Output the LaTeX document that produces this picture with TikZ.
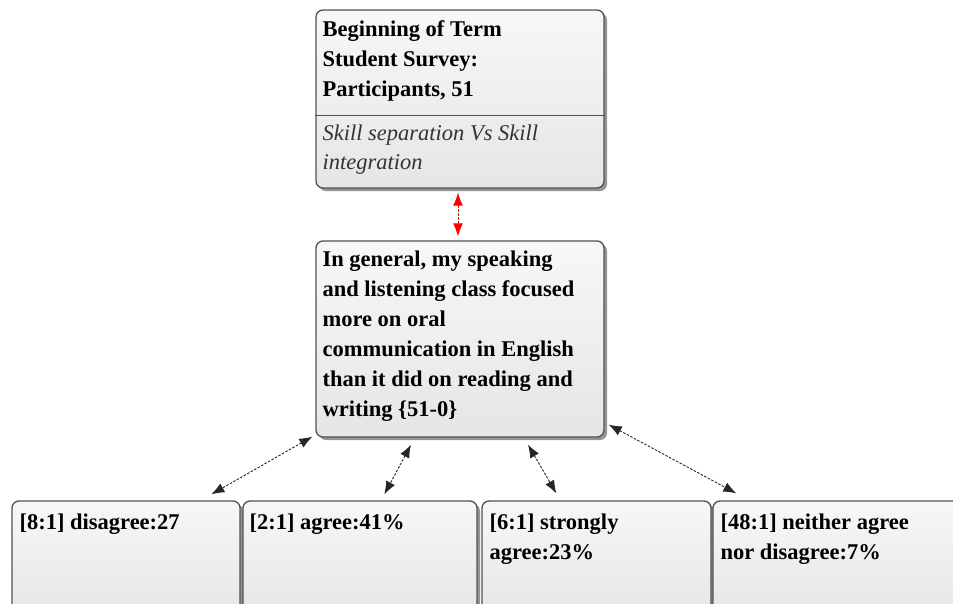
\documentclass[tikz,border=0pt]{standalone}
\usepackage{fontspec}
\setmainfont{Liberation Serif}
\usetikzlibrary{arrows.meta,shadows}

\begin{document}
\begin{tikzpicture}[x=1pt,y=-1pt,
  box/.style={draw=black!68, line width=1.3pt, rounded corners=7pt,
    top color=black!3, bottom color=black!10,
    drop shadow={shadow xshift=3pt, shadow yshift=-3pt, fill=black!70, opacity=0.6}},
  boldtxt/.style={anchor=north west, inner sep=0pt, align=left,
    font=\fontsize{22.5}{30}\selectfont\bfseries},
  itaTxt/.style={anchor=north west, inner sep=0pt, align=left, text=black!80,
    font=\fontsize{22.5}{29}\selectfont\itshape},
  link/.style={{Latex[length=13pt,width=10pt]}-{Latex[length=13pt,width=10pt]},
    line width=0.9pt, dash pattern=on 2.5pt off 1.5pt, black!85},
  redlink/.style={{Latex[length=13pt,width=10pt]}-{Latex[length=13pt,width=10pt]},
    line width=1pt, dash pattern=on 2.5pt off 1.5pt, red},
]
\useasboundingbox (0,0) rectangle (953,603);
\begin{scope}
\clip (0,0) rectangle (953,603);

% survey header box with its divider
\node[box, minimum width=288pt, minimum height=178pt] (top) at (460,99) {};
\draw[black!68, line width=1.3pt] ([yshift=-106pt]top.north west) -- ([yshift=-106pt]top.north east);
\node[boldtxt] (toptxt) at ([xshift=7pt,yshift=-6pt]top.north west)
  {\strut Beginning of Term\\Student Survey:\\Participants, 51};
\node[itaTxt] (topsub) at ([xshift=7pt,yshift=-111pt]top.north west)
  {\strut Skill separation Vs Skill\\integration};

% question box
\node[box, minimum width=288pt, minimum height=196pt] (mid) at (460,339) {};
\node[boldtxt] (midtxt) at ([xshift=7pt,yshift=-5pt]mid.north west)
  {\strut In general, my speaking\\and listening class focused\\more on oral\\communication in English\\than it did on reading and\\writing \{51-0\}};

% answer boxes
\node[box, minimum width=228pt, minimum height=119pt] (b1) at (126,560.5) {};
\node[box, minimum width=234pt, minimum height=119pt] (b2) at (360,560.5) {};
\node[box, minimum width=229pt, minimum height=119pt] (b3) at (596.5,560.5) {};
\node[box, minimum width=252pt, minimum height=119pt] (b4) at (839,560.5) {};

\node[boldtxt] (t1) at ([xshift=8pt,yshift=-8pt]b1.north west) {\strut [8:1] disagree:27};
\node[boldtxt] (t2) at ([xshift=7pt,yshift=-8pt]b2.north west) {\strut [2:1] agree:41\%};
\node[boldtxt] (t3) at ([xshift=8pt,yshift=-8pt]b3.north west) {\strut [6:1] strongly\\agree:23\%};
\node[boldtxt] (t4) at ([xshift=8pt,yshift=-8pt]b4.north west) {\strut [48:1] neither agree\\nor disagree:7\%};

% connectors
\draw[redlink] ([xshift=-2pt,yshift=-4pt]top.south) -- ([xshift=-2pt,yshift=4pt]mid.north);
\draw[link] ([xshift=-3pt,yshift=1pt]mid.south west) -- ([xshift=200pt,yshift=6pt]b1.north west);
\draw[link] ([xshift=-49pt,yshift=-7pt]mid.south) -- ([xshift=142pt,yshift=6pt]b2.north west);
\draw[link] ([xshift=68pt,yshift=-7pt]mid.south) -- ([xshift=75pt,yshift=7pt]b3.north west);
\draw[link] ([xshift=4pt,yshift=13pt]mid.south east) -- ([xshift=24pt,yshift=7pt]b4.north west);
\end{scope}
\end{tikzpicture}
\end{document}
